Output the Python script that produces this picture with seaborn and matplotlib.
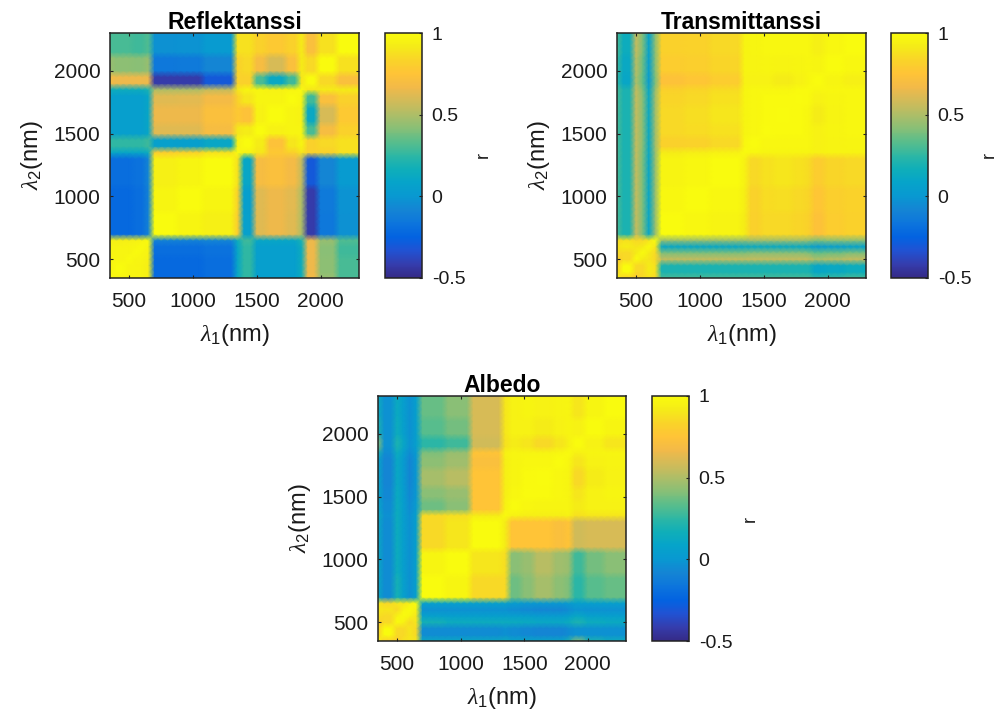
import numpy as np
import pandas as pd
import matplotlib
matplotlib.use("Agg")
import matplotlib.pyplot as plt
from matplotlib.colors import LinearSegmentedColormap
import seaborn as sns

plt.rcParams['font.family'] = ['Liberation Sans', 'DejaVu Sans']
plt.rcParams['mathtext.fontset'] = 'custom'
plt.rcParams['mathtext.it'] = 'Liberation Serif:italic'
plt.rcParams['mathtext.rm'] = 'Liberation Sans'

# Wavelength samples (nm) and how many samples each read-off band covers
wavelengths = np.arange(350, 2301, 50)
band_sizes = [1, 2, 1, 1, 1, 1, 4, 4, 5, 1, 2, 2, 3, 2, 1, 2, 3, 4]

# Upper triangles of the band correlation tables
reflectance = [
    [1, .96, .97, .96, .96, .93, -.22, -.22, -.2, .12, .25, .05, .05, .06, .15, .68, .45, .3],
    [1, .97, .97, .96, .93, -.22, -.22, -.2, .1, .25, .05, .05, .05, .15, .66, .43, .3],
    [1, .97, .97, .94, -.22, -.22, -.2, .1, .25, .05, .05, .05, .15, .66, .43, .3],
    [1, .98, .95, -.2, -.2, -.18, .1, .25, .05, .05, .05, .15, .66, .42, .28],
    [1, .96, -.2, -.2, -.18, .1, .25, .05, .05, .05, .15, .66, .42, .28],
    [1, -.1, -.1, -.08, .15, .28, .1, .1, .1, .2, .65, .45, .32],
    [1, .97, .94, .8, .06, .62, .66, .62, .5, -.42, -.15, -.03],
    [1, .97, .82, .05, .62, .66, .63, .5, -.42, -.14, -.02],
    [1, .88, .1, .7, .72, .68, .55, -.3, -.08, .02],
    [1, .95, .9, .78, .82, .9, .82, .82, .88],
    [1, .92, .74, .9, .97, .82, .85, .88],
    [1, .95, .97, .97, .3, .7, .82],
    [1, .97, .95, .12, .6, .78],
    [1, .97, .28, .72, .82],
    [1, .9, .92, .92],
    [1, .85, .72],
    [1, .88],
    [1],
]
transmittance = [
    [1, .82, .78, .85, .88, .85, .3, .3, .3, .3, .3, .3, .3, .3, .3, .25, .27, .3],
    [1, .85, .85, .92, .88, .2, .2, .2, .2, .2, .2, .2, .2, .2, .1, .12, .15],
    [1, .92, .9, .85, .55, .55, .55, .55, .55, .55, .55, .55, .55, .5, .52, .55],
    [1, .92, .85, .4, .4, .4, .4, .42, .42, .42, .42, .4, .35, .37, .4],
    [1, .9, .1, .1, .1, .12, .12, .12, .12, .12, .1, .03, .05, .07],
    [1, .45, .45, .45, .45, .47, .47, .47, .47, .45, .4, .42, .43],
    [1, .98, .96, .92, .82, .85, .85, .84, .82, .74, .8, .82],
    [1, .98, .93, .83, .86, .87, .85, .84, .76, .81, .83],
    [1, .95, .85, .88, .9, .88, .86, .8, .84, .85],
    [1, .98, .97, .97, .97, .97, .95, .96, .96],
    [1, .98, .98, .98, .98, .95, .96, .97],
    [1, .99, .99, .98, .95, .97, .98],
    [1, .99, .98, .92, .96, .98],
    [1, .99, .95, .97, .98],
    [1, .98, .98, .98],
    [1, .97, .94],
    [1, .98],
    [1],
]
albedo = [
    [1, .82, .8, .88, .9, .9, .12, .12, .12, .15, .1, .1, .1, .1, .2, .4, .2, .15],
    [1, .85, .85, .9, .85, -.05, -.05, -.05, -.03, -.05, -.07, -.08, -.08, -.05, -.03, -.03, -.03],
    [1, .95, .85, .9, .18, .15, .15, .15, .14, .13, .12, .12, .15, .2, .15, .13],
    [1, .97, .9, .06, .05, .05, .05, .05, .04, .03, .03, .05, .1, .06, .05],
    [1, .95, -.03, -.03, -.03, -.03, -.05, -.07, -.08, -.08, -.05, -.02, -.03, -.03],
    [1, .05, .05, .05, .05, .03, 0, 0, 0, .02, .05, .05, .05],
    [1, .97, .85, .85, .37, .42, .48, .43, .4, .24, .33, .36],
    [1, .9, .87, .42, .45, .52, .47, .45, .28, .38, .42],
    [1, .92, .75, .75, .75, .72, .75, .58, .6, .6],
    [1, .95, .93, .93, .93, .95, .88, .9, .9],
    [1, .98, .97, .97, .97, .92, .95, .95],
    [1, .99, .98, .97, .9, .95, .97],
    [1, .98, .97, .85, .92, .95],
    [1, .98, .9, .95, .96],
    [1, .95, .97, .97],
    [1, .95, .9],
    [1, .97],
    [1],
]

titles = ["Reflektanssi", "Transmittanssi", "Albedo"]
tick_nm = [500, 1000, 1500, 2000]
cbar_ticks = [-0.5, 0, 0.5, 1]
cbar_labels = ["-0.5", "0", "0.5", "1"]

# parula
parula = LinearSegmentedColormap.from_list("parula", [
    (0.2081, 0.1663, 0.5292), (0.2081, 0.2386, 0.6771), (0.1253, 0.3242, 0.8303),
    (0.0117, 0.3875, 0.8820), (0.0498, 0.4586, 0.8641), (0.0793, 0.5200, 0.8312),
    (0.0343, 0.5966, 0.8199), (0.0231, 0.6418, 0.7913), (0.0590, 0.6838, 0.7254),
    (0.1801, 0.7177, 0.6424), (0.3482, 0.7424, 0.5473), (0.5300, 0.7491, 0.4661),
    (0.6834, 0.7435, 0.4044), (0.8185, 0.7327, 0.3498), (0.9450, 0.7261, 0.2886),
    (0.9990, 0.7653, 0.2164), (0.9789, 0.8271, 0.1633), (0.9598, 0.9218, 0.0948),
    (0.9763, 0.9831, 0.0538),
], N=256)


def to_frame(table):
    # fill the symmetric band table, then repeat each band over its samples
    n = len(table)
    full = np.zeros((n, n))
    for i, row in enumerate(table):
        full[i, i:] = row
        full[i:, i] = row
    full = np.repeat(np.repeat(full, band_sizes, axis=0), band_sizes, axis=1)
    return pd.DataFrame(full, index=wavelengths, columns=wavelengths)


W, H = 999, 718
fig = plt.figure(figsize=(W / 100, H / 100), dpi=100)


def px_axes(x0, y0, x1, y1):
    return fig.add_axes([x0 / W, 1 - y1 / H, (x1 - x0) / W, (y1 - y0) / H])


boxes = [(110, 33, 359, 278), (617, 33, 866, 278), (378, 396, 626, 641)]
cboxes = [(385, 33, 422, 278), (891, 33, 928, 278), (652, 396, 689, 641)]
tables = [reflectance, transmittance, albedo]

for table, title, box, cbox in zip(tables, titles, boxes, cboxes):
    ax = px_axes(*box)
    cax = px_axes(*cbox)
    sns.heatmap(to_frame(table), ax=ax, cbar_ax=cax, cmap=parula, vmin=-0.5, vmax=1,
                xticklabels=False, yticklabels=False, shading='gouraud',
                cbar_kws={'ticks': cbar_ticks})

    pos = [(t - wavelengths[0]) / 50 for t in tick_nm]
    ax.set_xlim(0, len(wavelengths) - 1)
    ax.set_ylim(0, len(wavelengths) - 1)
    ax.set_xticks(pos)
    ax.set_yticks(pos)
    ax.set_xticklabels(tick_nm)
    ax.set_yticklabels(tick_nm, rotation=0)
    ax.tick_params(direction='in', length=2, width=0.8, top=True, right=True,
                   labelsize=15, color='#222222', labelcolor='#1a1a1a')
    ax.tick_params(axis='x', pad=10)
    ax.tick_params(axis='y', pad=7)
    for s in ax.spines.values():
        s.set_visible(True)
        s.set_linewidth(1.1)
        s.set_color('#222222')
    ax.set_title(title, fontsize=16.5, fontweight='bold', pad=3)
    ax.set_xlabel(r"$\lambda_1$(nm)", fontsize=17, labelpad=8, color='#1a1a1a')
    ax.set_ylabel(r"$\lambda_2$(nm)", fontsize=17, labelpad=6, color='#1a1a1a')

    cb = ax.collections[0].colorbar
    cb.outline.set_visible(True)
    cb.outline.set_linewidth(1.1)
    cb.outline.set_edgecolor('#222222')
    cb.set_ticklabels(cbar_labels)
    cax.tick_params(direction='in', length=2, width=0.8, labelsize=14, pad=7,
                    color='#222222', labelcolor='#1a1a1a')
    cb.set_label("r", fontsize=13, labelpad=7, color='#1a1a1a')

fig.savefig("out.png", dpi=100)
